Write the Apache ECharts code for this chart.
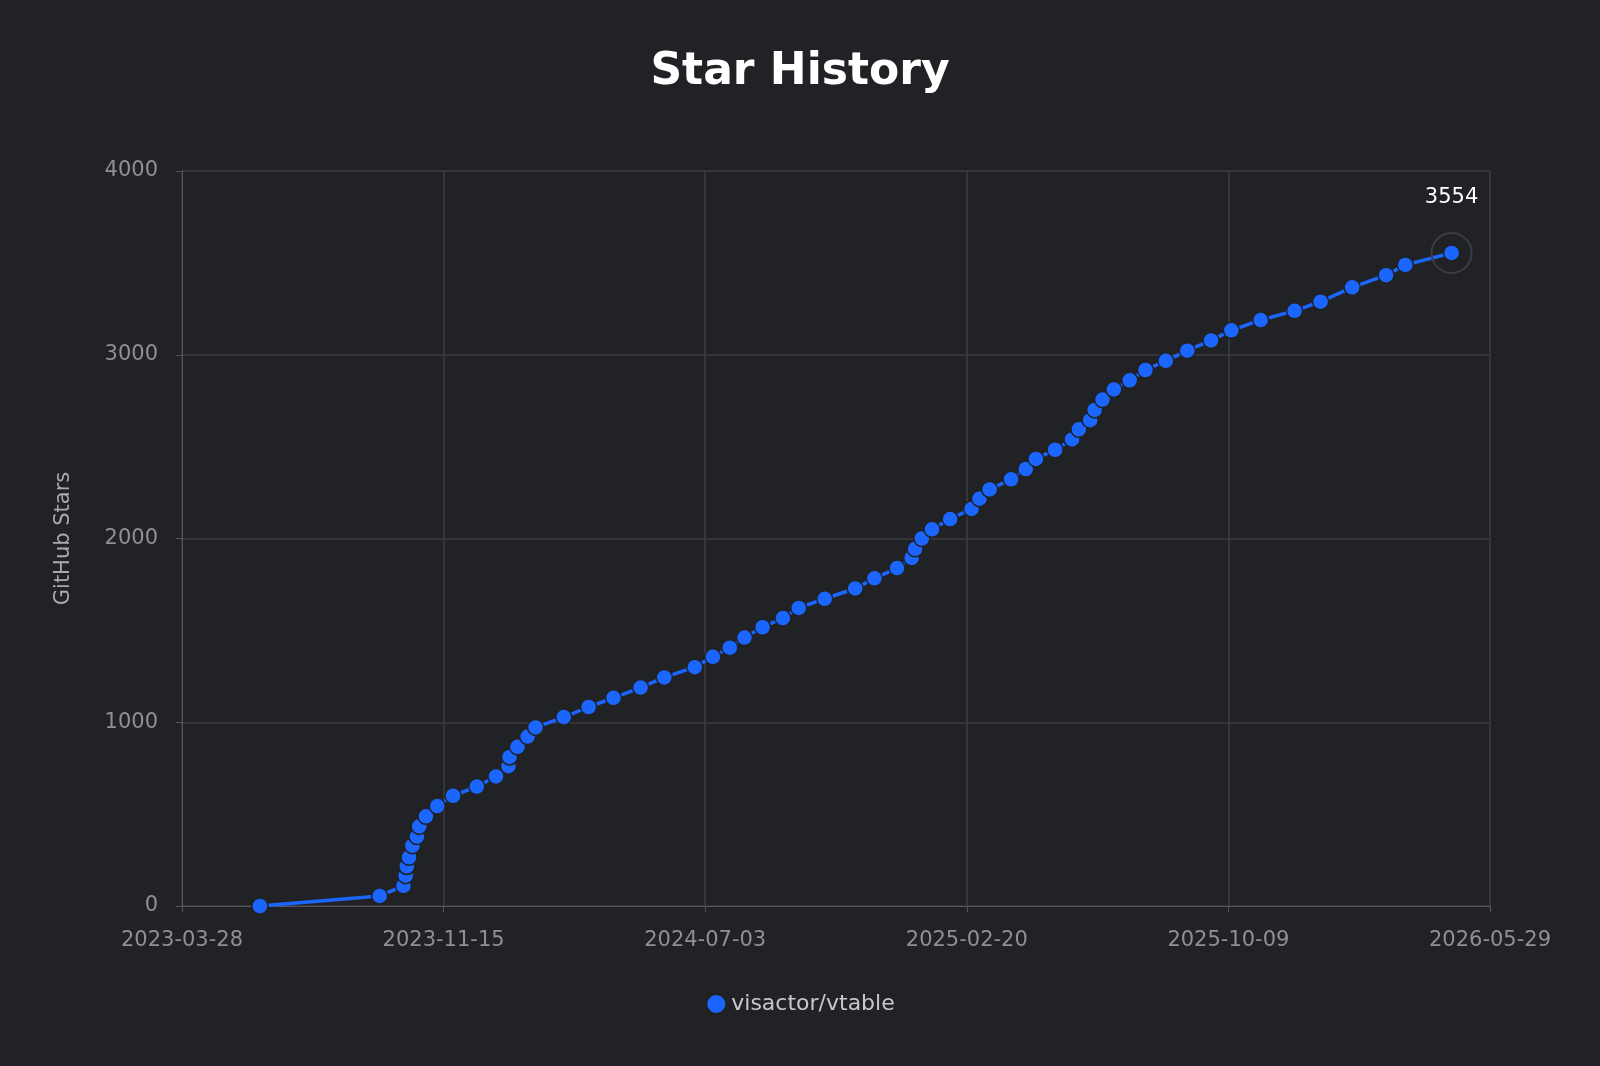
<!DOCTYPE html>
<html><head><meta charset="utf-8">
<script src="https://cdn.jsdelivr.net/npm/echarts@6/dist/echarts.min.js"></script>
<style>html,body{margin:0;background:#212226}#c{width:1600px;height:1066px}</style>
</head><body><div id="c"></div>
<script>
const startDate = '2023-03-28';
const endDate = '2026-05-29';
const seriesName = 'visactor/vtable';
// days after startDate
const dayOffsets = [69,175,196,198,199,201,204,208,210,216,226,240,261,278,289,290,297,306,313,338,360,382,406,427,454,470,485,498,514,532,546,569,596,613,633,646,649,655,664,680,699,706,715,734,747,756,773,788,794,804,808,815,825,839,853,871,890,911,929,955,985,1008,1036,1066,1083,1124];
const stars = [0,55,110,165,215,265,328,378,433,488,544,600,650,705,761,811,866,922,972,1028,1083,1133,1189,1244,1300,1356,1406,1461,1517,1567,1622,1672,1728,1783,1839,1894,1944,2000,2050,2106,2161,2217,2267,2322,2378,2433,2483,2539,2594,2644,2700,2756,2811,2861,2917,2967,3022,3078,3133,3189,3239,3289,3367,3433,3489,3554];
const DAY = 86400000;
const t0 = Date.UTC(2023,2,28), t1 = Date.UTC(2026,4,29);
const step = (t1 - t0) / 5;
const data = dayOffsets.map((d,i)=>[t0 + d*DAY, stars[i]]);
const fmt = v => { const d = new Date(Math.round(v/DAY)*DAY); return d.toISOString().slice(0,10); };
const grey = '#8f9095', gridc = '#3c3d42';
const chart = echarts.init(document.getElementById('c'));
chart.setOption({
  backgroundColor:'#212226',
  animation:false,
  title:{text:'Star History',left:'center',top:46,textStyle:{color:'#fff',fontSize:44,fontWeight:'bold',fontFamily:'DejaVu Sans'}},
  grid:{left:182,right:110,top:171,bottom:160},
  legend:{bottom:46,left:'center',icon:'circle',itemWidth:20,itemHeight:20,textStyle:{color:'#c8c8c8',fontSize:22,fontFamily:'DejaVu Sans'}},
  xAxis:{type:'value',min:t0,max:t1,interval:step,
    axisLine:{lineStyle:{color:'#55565b'}},axisTick:{show:true,length:6,lineStyle:{color:'#55565b'}},
    splitLine:{lineStyle:{color:gridc,width:1.5}},
    axisLabel:{color:grey,fontSize:21,margin:24,fontFamily:'DejaVu Sans',formatter:fmt}},
  yAxis:{type:'value',min:0,max:4000,interval:1000,name:'GitHub Stars',nameLocation:'middle',nameGap:108,
    nameTextStyle:{color:'#aaa',fontSize:21,fontFamily:'DejaVu Sans'},
    axisLine:{show:true,lineStyle:{color:'#55565b'}},axisTick:{show:true,length:6,lineStyle:{color:'#55565b'}},
    splitLine:{lineStyle:{color:gridc,width:1.5}},
    axisLabel:{color:grey,fontSize:21,margin:24,fontFamily:'DejaVu Sans',formatter:v=>String(v)}},
  series:[{name:seriesName,type:'line',data:data,symbol:'circle',symbolSize:16,
    lineStyle:{color:'#1a66ff',width:3.5},
    itemStyle:{color:'#1a66ff',borderColor:'#212226',borderWidth:1.5},
    markPoint:{symbol:'circle',symbolSize:40,
      itemStyle:{color:'rgba(0,0,0,0)',borderColor:'#3c3d42',borderWidth:2},
      label:{show:true,position:'top',distance:24,color:'#fff',fontSize:21,fontFamily:'DejaVu Sans',formatter:p=>String(p.value)},
      data:[{coord:data[data.length-1],value:stars[stars.length-1]}]}
  }]
});
</script></body></html>
